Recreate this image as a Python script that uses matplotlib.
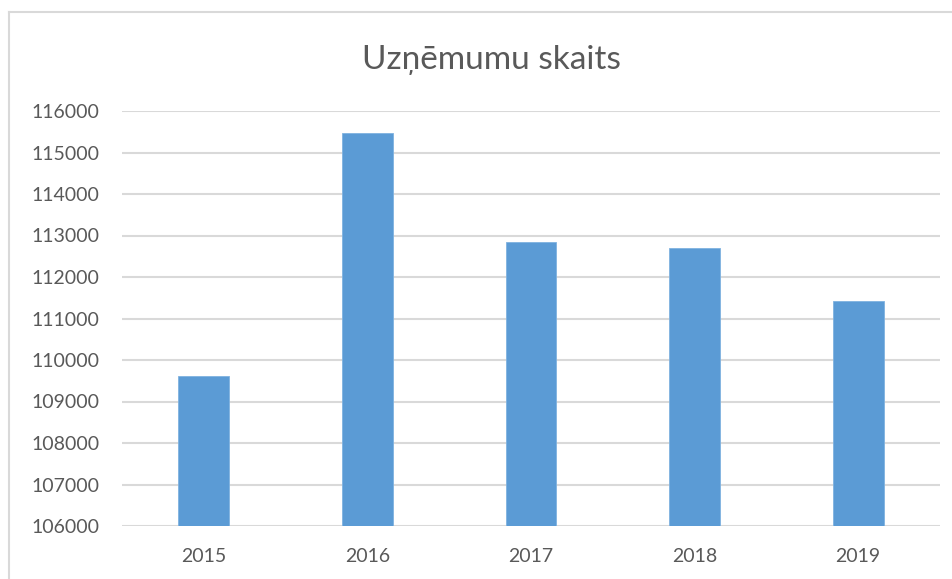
import matplotlib.pyplot as plt
import matplotlib
from matplotlib.lines import Line2D

matplotlib.rcParams["font.family"] = ["Lato", "DejaVu Sans"]

# dati
anni = ["2015", "2016", "2017", "2018", "2019"]
uznemumi = [109610, 115480, 112850, 112710, 111410]
y_ticks = [106000, 107000, 108000, 109000, 110000, 111000, 112000, 113000, 114000, 115000, 116000]

W, H = 953, 579
fig = plt.figure(figsize=(W / 100, H / 100), dpi=100)
ax = fig.add_axes([122 / W, 1 - 526 / H, (940 - 122) / W, (526 - 111) / H])

txt = "#595959"
grid = "#d9d9d9"

ax.bar(range(len(anni)), uznemumi, width=0.31, color="#5b9bd5",
       edgecolor="#7fb2e0", linewidth=0.6, zorder=3)
ax.set_xlim(-0.5, len(anni) - 0.5)
ax.set_ylim(y_ticks[0], y_ticks[-1])
ax.set_yticks(y_ticks)
ax.set_yticklabels([str(v) for v in y_ticks])
ax.set_xticks(range(len(anni)))
ax.set_xticklabels(anni)

ax.grid(axis="y", color=grid, linewidth=1.5, zorder=0)
for s in ax.spines.values():
    s.set_visible(False)
ax.tick_params(axis="both", length=0, labelsize=14, labelcolor=txt)
ax.tick_params(axis="y", pad=16)
ax.tick_params(axis="x", pad=16)

fig.text(491 / W, 1 - 60 / H, "Uzņēmumu skaits", ha="center", va="center",
         fontsize=24, color=txt)

# bordo del grafico
fig.add_artist(Line2D([9 / W, 1], [1 - 12 / H, 1 - 12 / H], color=grid, linewidth=1.5))
fig.add_artist(Line2D([9 / W, 9 / W], [0, 1 - 12 / H], color=grid, linewidth=1.5))

fig.savefig("out.png", dpi=100)
